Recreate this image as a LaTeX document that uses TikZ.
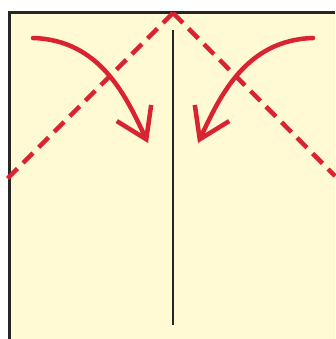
\documentclass[tikz,border=0pt]{standalone}
\usepackage{xcolor}
\usepackage{tikz}
\usetikzlibrary{arrows.meta}
\definecolor{paper}{HTML}{FFF9D4}
\definecolor{foldred}{HTML}{D92330}
\tikzset{
  sheet/.style={fill=paper,draw=none},
  rim/.style={draw=black!85,line width=3pt,line join=miter},
  crease/.style={draw=black!85,line width=1.4pt},
  valley/.style={draw=foldred,line width=4.5pt,dash pattern=on 14pt off 8pt},
  fold/.style={draw=foldred,line width=4.5pt,line cap=round,
               -{Straight Barb[length=29pt,width=38pt]}}
}
\begin{document}
\begin{tikzpicture}[x=1pt,y=-1pt]
  \useasboundingbox (0,0) rectangle (335,339);
  \fill[sheet] (9,13) rectangle (335,339);
  \coordinate (apex) at (173,13);
  \coordinate (lcut) at (5,181);
  \coordinate (rcut) at (335,176);
  \coordinate (ctop) at (173,30);
  \coordinate (cbot) at (173,325);
  \coordinate (lstart) at (33,38);
  \coordinate (lend) at (148,143);
  \coordinate (rstart) at (313,38);
  \coordinate (rend) at (198,143);

  \draw[crease] (ctop) -- (cbot);
  \draw[rim] (9,339) -- (9,13) -- (335,13);
  \draw[valley] (apex) -- (lcut);
  \draw[valley] (apex) -- (rcut);
  \draw[fold] (lstart) .. controls (100,40) and (126,96) .. (lend);
  \draw[fold] (rstart) .. controls (246,40) and (220,96) .. (rend);
\end{tikzpicture}
\end{document}
